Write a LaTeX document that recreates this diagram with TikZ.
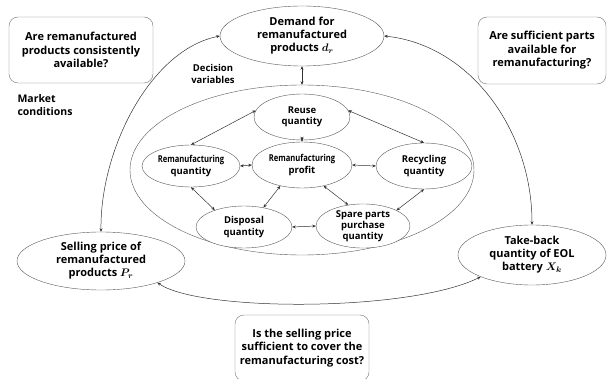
\documentclass[tikz,border=0pt]{standalone}
\usepackage{amsmath, amssymb, bm}
\usepackage{fontspec}
\setmainfont{Open Sans}
\usetikzlibrary{arrows.meta, positioning, shapes.geometric}

\newcommand{\narrow}[1]{\scalebox{0.8}[1]{#1}}

\tikzset{
  bigvar/.style={draw=black!65, fill=white, ellipse, inner sep=0pt, align=center,
                 font=\fontsize{11}{13}\selectfont\bfseries\boldmath},
  smallvar/.style={draw=black!65, fill=white, ellipse, inner sep=0pt, align=center,
                   font=\fontsize{9.5}{11.5}\selectfont\bfseries},
  question/.style={draw=black!55, rounded corners=9pt, inner sep=0pt, align=center,
                   font=\fontsize{11}{13.5}\selectfont\bfseries},
  note/.style={align=left, font=\fontsize{10.5}{13}\selectfont\bfseries},
  link/.style={{Stealth[length=3.5pt,width=3pt]}-{Stealth[length=3.5pt,width=3pt]}, black!80, line width=0.5pt},
}

\begin{document}
\begin{tikzpicture}[x=1pt, y=-1pt]
  \useasboundingbox (0,0) rectangle (609,379);

  % questions and labels
  \node[question, minimum width=144pt, minimum height=66pt] (qavail) at (81,50)
       {Are remanufactured\\products consistently\\available?};
  \node[question, minimum width=128pt, minimum height=67pt] (qparts) at (542,50.5)
       {Are sufficient parts\\available for\\remanufacturing?};
  \node[question, minimum width=134pt, minimum height=66pt] (qcost) at (302,348)
       {Is the selling price\\sufficient to cover the\\remanufacturing cost?};
  \node[note, anchor=north west] (market) at (14,91) {Market\\conditions};
  \node[note, align=center, font=\fontsize{9.5}{11.5}\selectfont\bfseries] (decision) at (213,74) {Decision\\variables};

  % market condition variables
  \node[bigvar, minimum width=164pt, minimum height=60pt] (demand) at (302,36)
       {Demand for\\remanufactured\\products $d_r$};
  \node[bigvar, minimum width=168pt, minimum height=58pt] (price) at (101,261)
       {Selling price of\\remanufactured\\products $P_r$};
  \node[bigvar, minimum width=148pt, minimum height=60pt] (takeback) at (532,255)
       {Take-back\\quantity of EOL\\battery $X_k$};

  % decision variables
  \node[draw=black!65, ellipse, minimum width=344pt, minimum height=170pt] (dv) at (302,170) {};
  \node[smallvar, minimum width=96pt, minimum height=46pt] (reuse) at (302,117) {Reuse\\quantity};
  \node[smallvar, minimum width=98pt, minimum height=42pt] (remq) at (191,166) {\narrow{Remanufacturing}\\quantity};
  \node[smallvar, minimum width=100pt, minimum height=46pt] (profit) at (302,165) {\narrow{Remanufacturing}\\profit};
  \node[smallvar, minimum width=96pt, minimum height=46pt] (recyc) at (424,166) {Recycling\\quantity};
  \node[smallvar, minimum width=96pt, minimum height=42pt] (disp) at (244,227) {Disposal\\quantity};
  \node[smallvar, minimum width=94pt, minimum height=44pt, font=\fontsize{9.5}{11}\selectfont\bfseries] (spare) at (363,226) {Spare parts\\purchase\\quantity};

  % links inside
  \draw[link] (demand.south) -- (dv.north);
  \draw[link] (reuse.south) -- (profit.north);
  \draw[link] (reuse.172) -- (remq.north);
  \draw[link] (reuse.8) -- (recyc.north);
  \draw[link] (remq.east) -- (profit.west);
  \draw[link] (profit.east) -- (recyc.west);
  \draw[link] (remq.south) -- (disp.150);
  \draw[link] (profit.224) -- (disp.45);
  \draw[link] (profit.-44) -- (spare.125);
  \draw[link] (recyc.south) -- (spare.25);
  \draw[link] (disp.east) -- (spare.west);

  % links outside
  \draw[link] (price.north) .. controls (100,150) and (150,50) .. (demand.west);
  \draw[link] (demand.east) .. controls (470,45) and (532,130) .. (takeback.north);
  \draw[link] (price.-21) .. controls (200,312) and (410,312) .. (takeback.203);
\end{tikzpicture}
\end{document}
